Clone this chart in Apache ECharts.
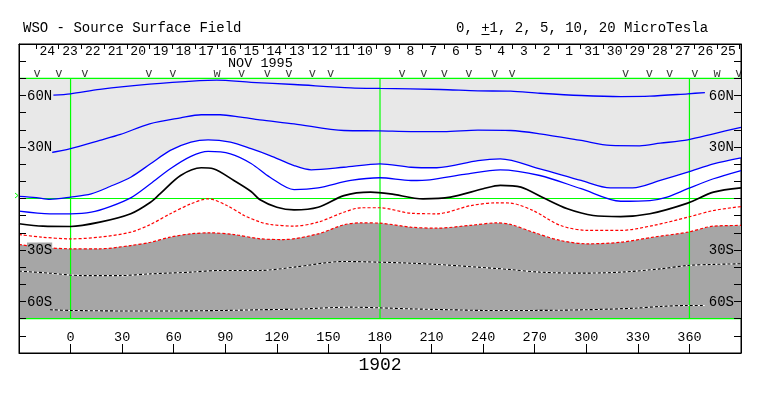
<!DOCTYPE html>
<html><head><meta charset="utf-8">
<script src="https://cdn.jsdelivr.net/npm/echarts@6/dist/echarts.min.js"></script>
<style>html,body{margin:0;padding:0;background:#fff}#c{width:763px;height:396px}</style>
</head><body><div id="c"></div>
<script>
// ---------- data ----------
const rotationLabel = '1902';
const lonRange = [-30, 390];
const meridians = [0, 180, 360];
const parallels = [70, 0, -70];
const xLabelValues = [0, 30, 60, 90, 120, 150, 180, 210, 240, 270, 300, 330, 360];
const yLabelValues = [60, 30, -30, -60];
const yLabelTexts = ['60N', '30N', '30S', '60S'];
const dayTickLon = [-20.1, -6.9, 6.3, 19.5, 32.7, 45.9, 59.1, 72.3, 85.5, 98.7, 111.9, 125.1, 138.3, 151.5, 164.7, 177.9,
  191.1, 204.3, 217.5, 230.7, 243.9, 257.1, 270.3, 283.5, 296.7, 309.9, 323.1, 336.3, 349.5, 362.7, 375.9, 389.1];
const dayLabels = ['24','23','22','21','20','19','18','17','16','15','14','13','12','11','10','9','8','7','6','5','4','3','2','1','31','30','29','28','27','26','25'];
const obsLon = [-19.4, -6.8, 8.3, 45.5, 59.5, 85.3, 99.5, 114.4, 127.0, 140.6, 151.2, 192.9, 205.5, 217.5, 231.7, 246.6, 256.9, 322.8, 336.7, 348.4, 363.1, 376.1, 388.7];
const obsMark = ['v','v','v','v','v','w','v','v','v','v','v','v','v','v','v','v','v','v','v','v','v','w','v'];

// contour lines [longitude, latitude]
const pos10 = [[-10,60.2],[0,61.0],[17,63.6],[46,66.6],[75,68.7],[85,69.0],[105,67.7],[130,66.4],[163,64.5],[180,64.1],[215,63.5],[237,62.7],[256,62.5],[273,61.3],[297,60.0],[320,59.4],[337,59.6],[359,61.0],[369,61.7]];
const pos5 = [[-13,26.4],[0,29.0],[17,33.8],[29,37.3],[46,43.5],[64,47.0],[76,48.8],[87,48.8],[99,47.4],[110,45.8],[130,43.5],[159,39.6],[180,39.4],[198,39.0],[217,39.0],[237,39.8],[256,39.6],[273,37.7],[297,33.8],[314,30.9],[331,30.7],[343,32.2],[359,34.2],[374,37.7],[390,41.5]];
const pos2 = [[-30,1.2],[-20,0.5],[-12,-0.5],[0,0.8],[12,2.7],[23,7.0],[35,12.4],[46.5,20.2],[58,28.0],[70,32.8],[80,34.2],[93,32.8],[105,29.0],[116,25.0],[130,19.2],[140,16.7],[159,18.2],[180,20.2],[198,18.2],[213,17.9],[237,22.1],[250,23.1],[273,17.3],[297,10.5],[314,6.2],[327,6.2],[343,10.5],[359,15.3],[374,20.2],[390,23.7]];
const pos1 = [[-30,-7.4],[-12,-8.9],[0,-8.9],[12,-8.0],[23,-4.7],[35,0.4],[46.5,8.6],[58,17.3],[70,24.5],[80,27.4],[93,26.0],[105,20.4],[116,12.4],[130,5.2],[144,6.2],[163,10.5],[180,12.1],[198,10.5],[209,10.9],[229,14.0],[250,16.7],[273,13.4],[297,5.7],[320,-1.6],[337,-1.2],[347,0.8],[359,5.7],[374,11.5],[390,16.3]];
const zero = [[-30,-14.7],[-16,-16.1],[0,-16.3],[17,-13.8],[35,-8.9],[46.5,-2.2],[52,2.7],[64,13.4],[76,17.9],[83,17.3],[95,10.5],[105,4.1],[110,-0.6],[120,-5.1],[130,-6.6],[144,-5.1],[159,1.7],[174.5,3.7],[186,2.7],[205,-0.2],[221,0.8],[240,5.7],[250,7.7],[262,6.6],[275,0.4],[289,-6.0],[304,-9.9],[320,-10.5],[337,-8.9],[359,-2.7],[374,3.7],[390,6.2]];
const neg1 = [[-30,-21.0],[-17,-22.5],[0,-23.5],[17,-22.5],[35,-19.6],[46.5,-15.1],[58,-8.9],[70,-3.1],[80,-0.2],[91,-4.1],[101,-9.9],[110.5,-13.8],[116,-15.1],[130,-16.1],[144,-13.8],[159,-8.0],[169,-5.4],[180,-5.4],[198,-8.6],[213,-8.9],[233,-4.1],[248,-2.5],[256,-2.7],[269,-7.0],[285,-15.7],[301,-18.6],[320,-18.6],[339,-15.7],[359,-10.9],[374,-7.0],[390,-4.7]];
const neg2 = [[-30,-26.8],[-17,-28.4],[0,-29.3],[17,-29.3],[35,-27.4],[46.5,-25.5],[58,-22.5],[70,-20.6],[81,-20.0],[95,-21.0],[110.5,-23.5],[124,-23.9],[144,-20.6],[159,-15.3],[169,-14.2],[180,-14.4],[198,-16.7],[213,-17.3],[233,-15.6],[248,-14.2],[256,-15.1],[269,-19.6],[285,-24.5],[301,-26.4],[320,-25.5],[339,-22.5],[359,-19.6],[374,-16.1],[390,-15.7]];
const neg5 = [[-30,-42.3],[-12,-43.5],[6,-44.9],[29,-44.9],[46.5,-43.9],[70,-42.9],[87,-41.9],[110.5,-41.9],[130,-40.0],[159,-36.7],[180,-37.1],[198,-37.7],[213,-38.4],[237,-40.0],[256,-41.4],[273,-42.9],[297,-43.5],[320,-42.9],[343,-41.0],[359,-39.0],[374,-38.4],[390,-38.0]];
const neg10 = [[-12,-64.8],[0,-65.2],[30,-65.5],[60,-65.5],[90,-65.2],[110,-64.8],[130,-64.5],[163,-63.3],[180,-63.7],[198,-64.3],[221,-64.8],[240,-65.2],[270,-65.2],[300,-64.8],[328,-63.9],[343,-62.9],[359,-62.3],[369,-62.3]];

// ---------- styles ----------
const FONT = 'Liberation Mono';
const LIGHT = '#e8e8e8', DARK = '#a6a6a6', GREEN = '#00ff00';
const SM = 0.3;
const dayLabelLon = dayTickLon.slice(0, -1).map((t, i) => (t + dayTickLon[i + 1]) / 2);
const OBS_LAT = 72.5;

function contour(data, color, width, type, z) {
  return {type: 'line', data, symbol: 'none', smooth: SM, silent: true, z,
    lineStyle: {color, width, type}};
}
function ylab(v) {
  const i = yLabelValues.indexOf(v);
  if (i < 0) return '';
  return (v > 0 ? '{n|' : '{s|') + yLabelTexts[i] + '}';
}
const rich = {
  n: {backgroundColor: LIGHT, fontFamily: FONT, fontSize: 14, color: '#000', padding: [1, 0, 0, 0]},
  s: {backgroundColor: DARK, fontFamily: FONT, fontSize: 14, color: '#000', padding: [1, 0, 0, 0]}
};

const series = [];
series.push({type: 'line', data: pos2, symbol: 'none', smooth: SM, silent: true, z: 1,
  lineStyle: {width: 0}, areaStyle: {color: LIGHT, opacity: 1, origin: parallels[0]}});
series.push({type: 'line', data: neg2, symbol: 'none', smooth: SM, silent: true, z: 1,
  lineStyle: {width: 0}, areaStyle: {color: DARK, opacity: 1, origin: parallels[2]}});
parallels.forEach(p => series.push({type: 'line', data: [[lonRange[0], p], [lonRange[1], p]], symbol: 'none', silent: true, z: 2,
  lineStyle: {color: GREEN, width: 1.2}}));
meridians.forEach(m => series.push({type: 'line', data: [[m, parallels[2]], [m, parallels[0]]], symbol: 'none', silent: true, z: 2,
  lineStyle: {color: GREEN, width: 1.2}}));
series.push(contour(pos10, '#0000ff', 1.3, 'solid', 3));
series.push(contour(pos5, '#0000ff', 1.3, 'solid', 3));
series.push(contour(pos2, '#0000ff', 1.3, 'solid', 3));
series.push(contour(pos1, '#0000ff', 1.3, 'solid', 3));
series.push(contour(zero, '#000000', 1.7, 'solid', 3));
series.push(contour(neg1, '#ff0000', 1.2, [3, 2], 3));
series.push(contour(neg2, '#ff0000', 1.2, [3, 2], 3));
series.push(contour(neg5, '#ffffff', 1.1, 'solid', 3));
series.push(contour(neg5, '#000000', 1.1, [3, 2], 3));
series.push(contour(neg10, '#ffffff', 1.1, 'solid', 3));
series.push(contour(neg10, '#000000', 1.1, [3, 2], 3));
series.push({type: 'scatter', silent: true, z: 4, symbolSize: 0,
  data: obsLon.map((x, i) => ({value: [x, OBS_LAT], mark: obsMark[i]})),
  label: {show: true, position: 'inside', color: '#000', fontFamily: FONT, fontSize: 12,
    formatter: p => p.data.mark}});

const option = {
  animation: false,
  backgroundColor: '#fff',
  textStyle: {fontFamily: FONT},
  grid: {left: 19, right: 22, top: 44, bottom: 43, show: true, backgroundColor: '#fff', borderColor: '#000', borderWidth: 1},
  xAxis: [
    {type: 'value', position: 'bottom', min: lonRange[0], max: lonRange[1], interval: 30,
      axisLine: {show: true, onZero: false, lineStyle: {color: '#000', width: 1}}, splitLine: {show: false},
      axisTick: {show: true, inside: true, length: 9, customValues: xLabelValues, lineStyle: {color: '#000'}},
      axisLabel: {show: true, inside: true, margin: 9, customValues: xLabelValues, color: '#000', fontFamily: FONT, fontSize: 13.5}},
    {type: 'value', position: 'top', min: lonRange[0], max: lonRange[1],
      axisLine: {show: true, onZero: false, lineStyle: {color: '#000', width: 1}}, splitLine: {show: false},
      axisTick: {show: true, inside: true, length: 5, customValues: dayTickLon, lineStyle: {color: '#000'}},
      axisLabel: {show: true, inside: true, margin: 1, customValues: dayLabelLon, color: '#000', fontFamily: FONT, fontSize: 13,
        formatter: v => { const i = dayLabelLon.findIndex(d => Math.abs(d - v) < 1e-6); return i < 0 ? '' : dayLabels[i]; }}}
  ],
  yAxis: [
    {type: 'value', position: 'left', min: -90, max: 90, interval: 10, z: 10,
      axisLine: {show: true, onZero: false, lineStyle: {color: '#000'}}, splitLine: {show: false},
      axisTick: {show: true, inside: true, length: 7, lineStyle: {color: '#000'}},
      axisLabel: {show: true, inside: true, margin: 8, formatter: ylab, rich}},
    {type: 'value', position: 'right', min: -90, max: 90, interval: 10, z: 10,
      axisLine: {show: true, onZero: false, lineStyle: {color: '#000'}}, splitLine: {show: false},
      axisTick: {show: true, inside: true, length: 7, lineStyle: {color: '#000'}},
      axisLabel: {show: true, inside: true, margin: 7, formatter: ylab, rich}}
  ],
  graphic: [
    {type: 'text', left: 23, top: 21, style: {text: 'WSO - Source Surface Field', font: '14px "Liberation Mono"', fill: '#000'}},
    {type: 'text', left: 456, top: 21, style: {text: '0, +1, 2, 5, 10, 20 MicroTesla', font: '14px "Liberation Mono"', fill: '#000'}},
    {type: 'line', shape: {x1: 481.5, y1: 34.5, x2: 489.5, y2: 34.5}, style: {stroke: '#000', lineWidth: 1}},
    {type: 'text', left: 228, top: 56, style: {text: 'NOV 1995', font: '13.5px "Liberation Mono"', fill: '#000'}},
    {type: 'text', x: 380, y: 365, style: {text: rotationLabel, font: '18px "Liberation Mono"', fill: '#000', align: 'center', verticalAlign: 'middle'}},
    {type: 'polyline', shape: {points: [[15, 193], [18, 195.5], [15, 198]]}, style: {stroke: GREEN, fill: null, lineWidth: 1}}
  ],
  series
};
const chart = echarts.init(document.getElementById('c'), null, {renderer: 'canvas'});
chart.setOption(option);
</script></body></html>
